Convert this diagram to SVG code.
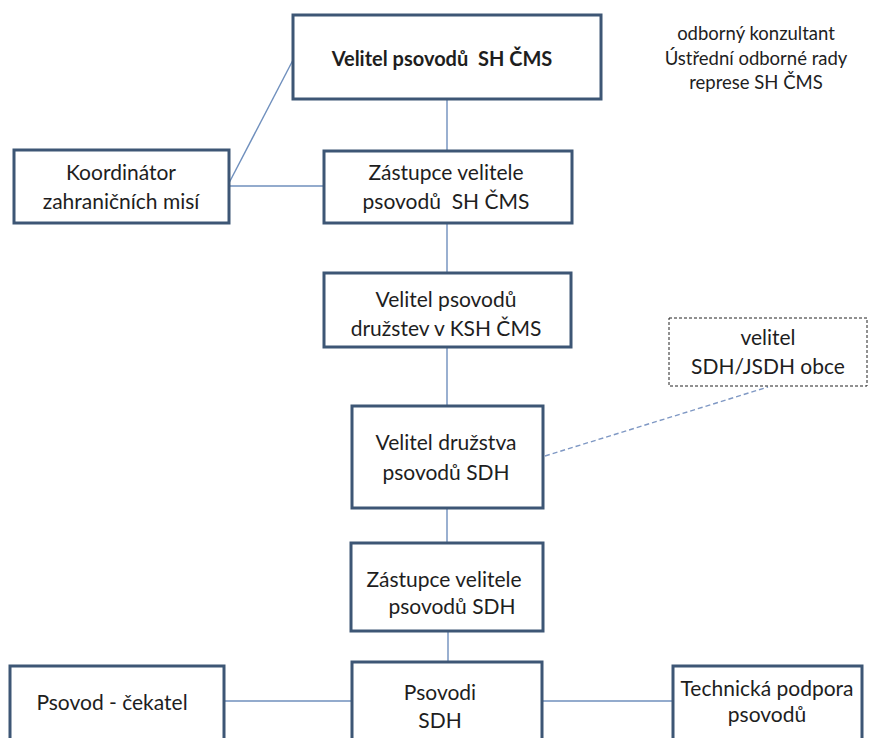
<svg xmlns="http://www.w3.org/2000/svg" width="869" height="738" viewBox="0 0 869 738">
<style>
.box{fill:#fff;stroke:#3d5675;stroke-width:3}
.dbox{fill:#fff;stroke:#222;stroke-width:1;stroke-dasharray:3 2}
.t{font-family:Lato,"Open Sans","Liberation Sans",sans-serif;font-size:21px;fill:#1e1e1e;text-anchor:middle;white-space:pre}
.b{font-weight:bold;font-size:20px}
.s{font-size:18.5px}
.c{stroke:#6f8fbd;stroke-width:1.4;fill:none}
.d{stroke:#7f98c4;stroke-width:1.4;stroke-dasharray:5 3;fill:none}
</style>
<rect width="869" height="738" fill="#fff"/>
<g id="connectors">
<line class="c" x1="447" y1="99" x2="447" y2="151"/>
<line class="c" x1="229" y1="186" x2="324" y2="186"/>
<line class="c" x1="229" y1="183" x2="293" y2="60"/>
<line class="c" x1="447" y1="223" x2="447" y2="273"/>
<line class="c" x1="447" y1="347" x2="447" y2="406"/>
<line class="c" x1="447" y1="508" x2="447" y2="543"/>
<line class="c" x1="448" y1="631" x2="448" y2="662"/>
<line class="c" x1="224" y1="701" x2="352" y2="701"/>
<line class="c" x1="542" y1="701" x2="673" y2="701"/>
<line class="d" x1="545" y1="456" x2="768" y2="387"/>
</g>
<g id="n-velitel">
<rect class="box" x="293" y="15" width="308" height="84"/>
<text class="t b" x="442" y="66">Velitel psovodů&#160; SH ČMS</text>
</g>
<g id="n-konzultant">
<text class="t s" x="756" y="40">odborný konzultant</text>
<text class="t s" x="756" y="65">Ústřední odborné rady</text>
<text class="t s" x="756" y="89">represe SH ČMS</text>
</g>
<g id="n-koordinator">
<rect class="box" x="14" y="150" width="215" height="73"/>
<text class="t" x="121" y="180">Koordinátor</text>
<text class="t" x="121" y="209">zahraničních misí</text>
</g>
<g id="n-zastupce">
<rect class="box" x="324" y="151" width="248" height="72"/>
<text class="t" x="446" y="180">Zástupce velitele</text>
<text class="t" x="446" y="209">psovodů&#160; SH ČMS</text>
</g>
<g id="n-velitel-druzstev">
<rect class="box" x="324" y="273" width="247" height="74"/>
<text class="t" x="446" y="307">Velitel psovodů</text>
<text class="t" x="446" y="336">družstev v KSH ČMS</text>
</g>
<g id="n-obec">
<rect class="dbox" x="669" y="318" width="198" height="68"/>
<text class="t" x="768" y="345">velitel</text>
<text class="t" x="768" y="374">SDH/JSDH obce</text>
</g>
<g id="n-velitel-druzstva">
<rect class="box" x="352" y="406" width="191" height="102"/>
<text class="t" x="446" y="450">Velitel družstva</text>
<text class="t" x="446" y="480">psovodů SDH</text>
</g>
<g id="n-zastupce-sdh">
<rect class="box" x="351" y="543" width="192" height="88"/>
<text class="t" x="444" y="587">Zástupce velitele</text>
<text class="t" x="452" y="614">psovodů SDH</text>
</g>
<g id="n-cekatel">
<rect class="box" x="10" y="666" width="214" height="80"/>
<text class="t" x="112" y="710">Psovod - čekatel</text>
</g>
<g id="n-psovodi">
<rect class="box" x="352" y="662" width="190" height="84"/>
<text class="t" x="440" y="700">Psovodi</text>
<text class="t" x="440" y="728">SDH</text>
</g>
<g id="n-technicka">
<rect class="box" x="673" y="666" width="189" height="80"/>
<text class="t" x="767" y="696">Technická podpora</text>
<text class="t" x="767" y="722">psovodů</text>
</g>
</svg>
